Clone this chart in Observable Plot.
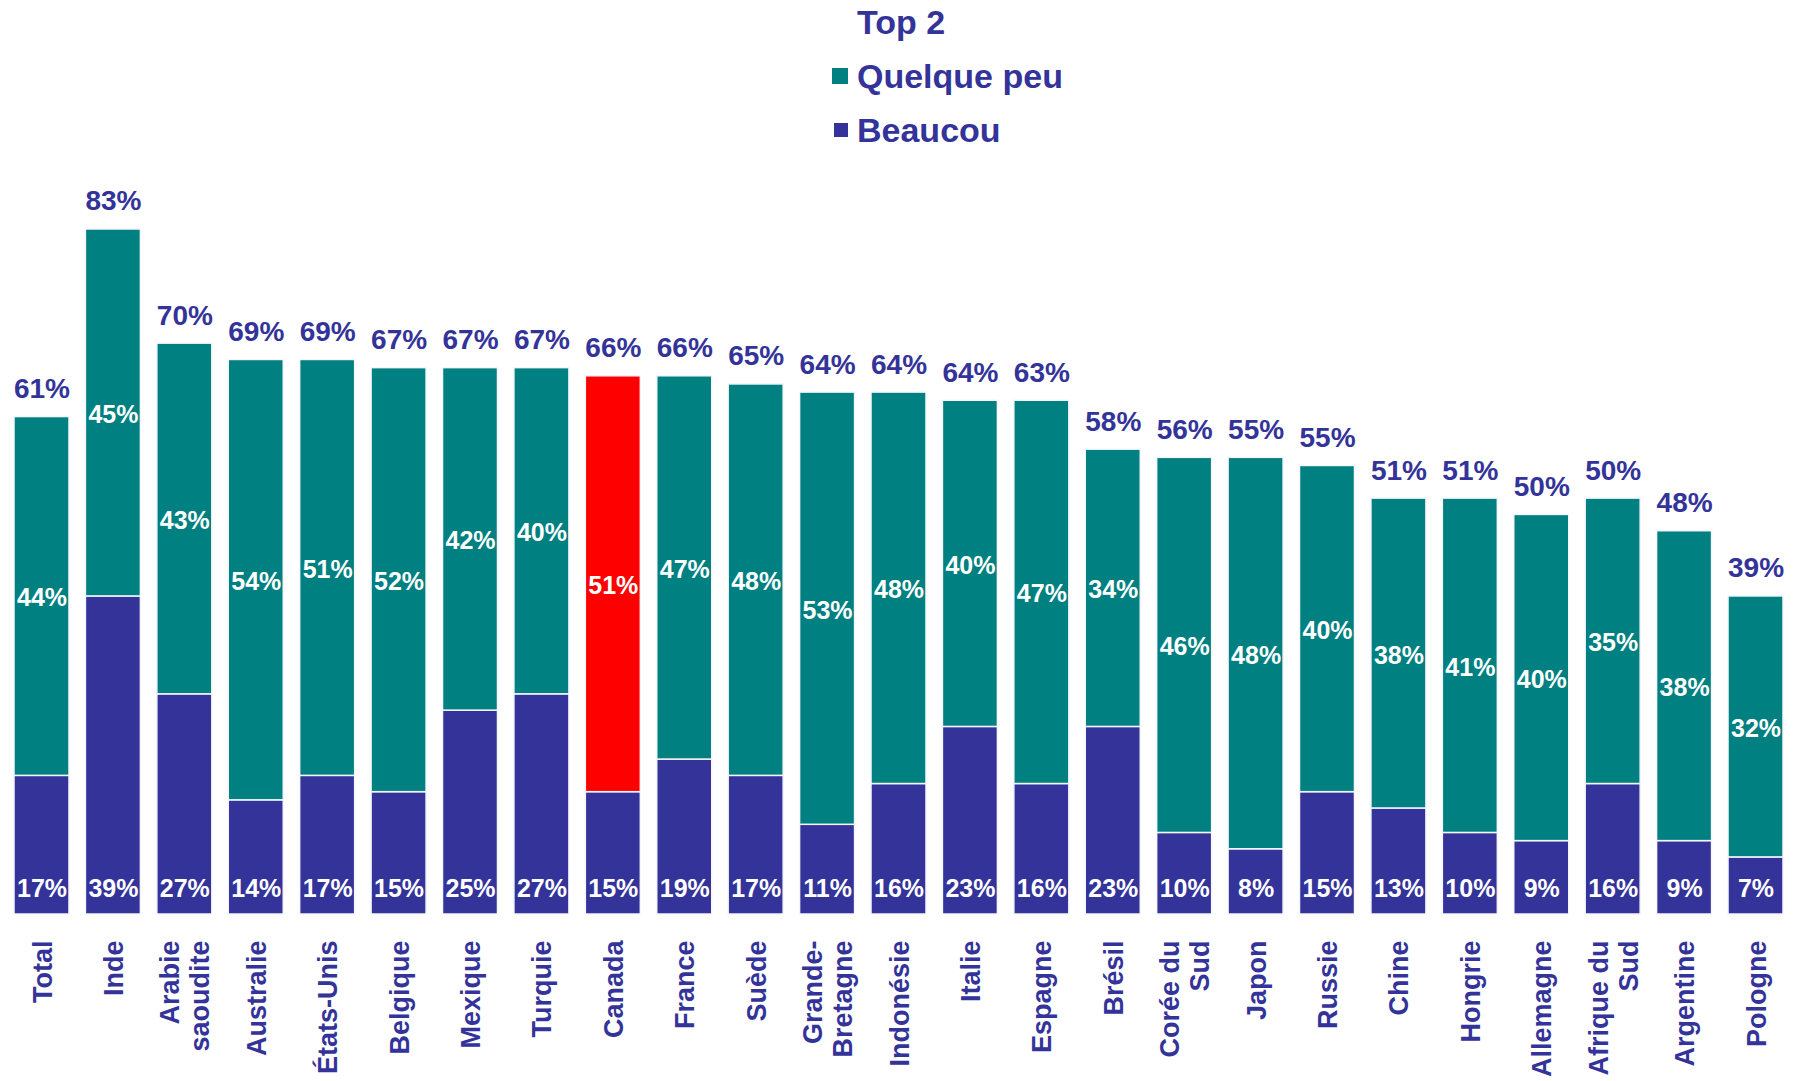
<!DOCTYPE html>
<html>
<head>
<meta charset="utf-8">
<script src="https://cdn.jsdelivr.net/npm/d3@7"></script>
<script src="https://cdn.jsdelivr.net/npm/@observablehq/plot@0.6"></script>
<style>
  html, body { margin: 0; padding: 0; background: #fff; }
  body { width: 1803px; height: 1081px; overflow: hidden; font-family: "Liberation Sans", Arial, sans-serif; }
  #legend { position: relative; height: 150px; width: 1803px; color: #333399; font-weight: bold; font-size: 34px; }
  #legend .t { position: absolute; left: 857px; line-height: 1; }
  #legend .sw { position: absolute; }
</style>
</head>
<body>
<div id="legend"></div>
<div id="chart"></div>
<script>
const categories = ["Total","Inde","Arabie\nsaoudite","Australie","États-Unis","Belgique","Mexique","Turquie","Canada","France","Suède","Grande-\nBretagne","Indonésie","Italie","Espagne","Brésil","Corée du\nSud","Japon","Russie","Chine","Hongrie","Allemagne","Afrique du\nSud","Argentine","Pologne"];
const beaucou = [17,39,27,14,17,15,25,27,15,19,17,11,16,23,16,23,10,8,15,13,10,9,16,9,7];
const quelquePeu = [44,45,43,54,51,52,42,40,51,47,48,53,48,40,47,34,46,48,40,38,41,40,35,38,32];
const top2 = [61,83,70,69,69,67,67,67,66,66,65,64,64,64,63,58,56,55,55,51,51,50,50,48,39];
const seriesNames = ["Beaucou","Quelque peu"];
const legendTitle = "Top 2";
const highlight = "Canada";

const BLUE = "#333399", TEAL = "#008080", RED = "#ff0000";

// legend
const lg = document.getElementById("legend");
lg.innerHTML = `
  <div class="t" style="top:5px">${legendTitle}</div>
  <div class="sw" style="left:832px;top:68px;width:16px;height:16px;background:${TEAL}"></div>
  <div class="t" style="top:59px">${seriesNames[1]}</div>
  <div class="sw" style="left:834px;top:123px;width:14px;height:14px;background:${BLUE}"></div>
  <div class="t" style="top:113px">${seriesNames[0]}</div>`;

const rows = [];
categories.forEach((c, i) => rows.push({cat: c, series: seriesNames[0], value: beaucou[i],
  fill: BLUE}));
categories.forEach((c, i) => rows.push({cat: c, series: seriesNames[1], value: quelquePeu[i],
  fill: c === highlight ? RED : TEAL}));
const tops = categories.map((c, i) => ({cat: c, total: beaucou[i] + quelquePeu[i], label: top2[i] + "%"}));
const bottoms = categories.map((c, i) => ({cat: c, label: beaucou[i] + "%"}));

const chart = Plot.plot({
  width: 1803,
  height: 931,
  marginTop: 79,
  marginBottom: 167,
  marginLeft: 14,
  marginRight: 20,
  style: {fontFamily: "'Liberation Sans', Arial, sans-serif", background: "white"},
  x: {domain: categories, paddingInner: 0.23, paddingOuter: 0, round: false, axis: null},
  y: {domain: [0, 84], axis: null},
  marks: [
    Plot.barY(rows, Plot.stackY({x: "cat", y: "value", z: "series", fill: "fill", stroke: "#f4f6fb", strokeWidth: 1.5})),
    Plot.text(rows, Plot.stackY({x: "cat", y: "value", z: "series", dy: 2,
      text: d => d.series === seriesNames[1] ? d.value + "%" : "",
      fill: "white", fontSize: 25, fontWeight: "bold"})),
    Plot.text(bottoms, {x: "cat", frameAnchor: "bottom", dy: -18, text: "label",
      fill: "white", fontSize: 25, fontWeight: "bold"}),
    Plot.text(tops, {x: "cat", y: "total", dy: -28, text: "label",
      fill: BLUE, fontSize: 28, fontWeight: "bold"}),
    Plot.text(categories, {x: d => d, text: d => d, frameAnchor: "bottom", dy: 26,
      rotate: -90, textAnchor: "end", lineAnchor: "middle", lineHeight: 1.1,
      fill: BLUE, fontSize: 27, fontWeight: "bold"})
  ]
});
document.getElementById("chart").appendChild(chart);
</script>
</body>
</html>
